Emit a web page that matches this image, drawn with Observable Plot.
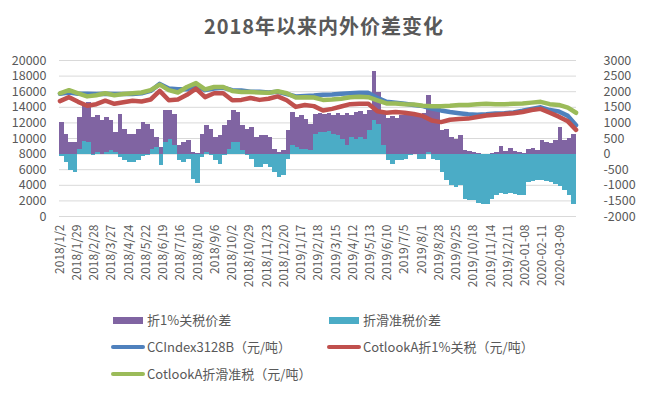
<!DOCTYPE html>
<html><head><meta charset="utf-8">
<script src="https://cdn.jsdelivr.net/npm/d3@7"></script>
<script src="https://cdn.jsdelivr.net/npm/@observablehq/plot@0.6"></script>
<style>
body{margin:0;background:#fff;}
#wrap{position:relative;width:648px;height:394px;overflow:hidden;font-family:"Noto Sans CJK SC","Noto Sans",sans-serif;color:#595959;background:#fff;}
#title{position:absolute;left:0;width:648px;top:13px;line-height:26px;text-align:center;font-size:20px;font-weight:bold;letter-spacing:1px;}
#chart{position:absolute;left:0;top:0;}
.lg{position:absolute;font-size:13px;line-height:18px;white-space:nowrap;display:flex;align-items:center;}
.sw{display:inline-block;margin-right:3px;}
</style></head><body>
<div id="wrap"><div id="chart"></div><div id="title">2018年以来内外价差变化</div><div id="legend"></div></div>
<script>
// ---- data ----
const xLabels = ["2018/1/2","2018/1/29","2018/2/28","2018/3/27","2018/4/24","2018/5/22","2018/6/19","2018/7/16","2018/8/10","2018/9/6","2018/10/2","2018/10/29","2018/11/23","2018/12/20","2019/1/17","2019/2/18","2019/3/15","2019/4/12","2019/5/13","2019/6/10","2019/7/5","2019/8/1","2019/8/28","2019/9/25","2019/10/18","2019/11/14","2019/12/11","2020-01-08","2020-02-11","2020-03-09"];
const labelEvery = 19;      // trading days between category labels
const totalDays = 570;      // trading days on the category axis
const barStep = 5;          // bars: one value per 5 trading days (right axis, 元/吨)
const lineStep = 10;        // lines: one value per 10 trading days (left axis, 元/吨)

// 折1%关税价差 (right axis)
const spread1pct = [1020,640,375,375,1180,1600,1660,1180,1230,1070,1180,1070,700,1280,800,640,640,800,1020,960,
  800,535,215,1390,1390,1285,270,375,430,50,30,640,910,800,535,590,910,1070,1390,1340,
  910,800,860,535,590,590,535,160,50,107,750,1340,1180,1230,1125,960,1285,1300,1280,1300,
  1250,1300,1250,1300,1250,1320,1350,1280,1400,2650,1980,1300,1150,1200,1150,1250,1250,1300,1250,1250,
  1300,1870,1550,1390,750,800,535,480,590,107,85,55,20,0,0,20,55,235,85,190,
  85,55,20,160,180,107,450,375,340,450,860,450,515,640];
// 折滑准税价差 (right axis)
const spreadSlide = [-90,-270,-540,-590,160,400,375,-50,50,-20,50,100,50,-110,-210,-270,-270,-190,-90,-50,
  150,210,-375,375,480,270,-210,-270,-160,-800,-950,-110,50,-50,-210,-320,-50,160,375,375,
  100,-50,-160,-430,-430,-320,-430,-590,-750,-700,-160,270,215,160,160,100,640,700,700,730,
  640,590,480,270,535,480,535,480,750,1070,960,270,-215,-320,-215,-215,-160,-55,-20,-160,
  -160,55,-180,-215,-590,-835,-1020,-1070,-1020,-1445,-1480,-1500,-1585,-1630,-1600,-1445,-1340,-1265,-1285,-1265,
  -1285,-1320,-1340,-910,-890,-860,-860,-880,-910,-985,-1050,-1180,-1340,-1600];
// CCIndex3128B
const ccIndex = [15750,15900,15750,15750,15700,15750,15700,15700,15700,15800,16100,17000,16400,16300,16300,16800,16200,16400,16500,16200,
  16150,16000,16000,15900,16000,15700,15400,15450,15500,15600,15650,15750,15800,15850,15850,15200,14700,14600,14450,14300,
  14150,13850,13600,13400,13250,13100,13050,13100,13200,13250,13350,13550,13800,14000,13650,13450,12900,11700];
// CotlookA折1%关税
const cotlook1pct = [14800,15300,14700,14200,14400,14850,14450,14650,14850,14750,15000,16100,14900,15000,15600,16400,15300,15800,15800,14900,
  14950,15200,14950,15100,15400,14900,14050,14300,14150,13600,13800,14100,14400,14450,14450,13500,13300,13400,13300,13150,
  12900,12300,12100,12400,12500,12550,12750,12950,13050,13150,13250,13400,13650,13800,13300,12800,12200,11100];
// CotlookA折滑准税
const cotlookSlide = [15800,16200,15800,15400,15550,15800,15550,15700,15800,15900,16200,16900,16200,15900,16600,17100,16300,16600,16600,16100,
  15950,15950,15900,15850,16050,15800,15250,15300,15250,14950,15000,15100,15300,15350,15300,14900,14500,14500,14400,14350,
  14200,14150,14150,14200,14300,14300,14400,14450,14400,14400,14450,14500,14600,14700,14400,14300,13950,13300];
const leftTicks = [0,2000,4000,6000,8000,10000,12000,14000,16000,18000,20000];

const colors = {p:"#8064A2", t:"#4BACC6", cc:"#4F81BD", c1:"#C0504D", cs:"#9BBB59"};

// right axis (-2000..3000) maps onto left axis (0..20000)
const toLeft = r => (r + 2000) * 4;

const bars = spread1pct.map((v, k) => ({x1: k*barStep, x2: (k+1)*barStep, p: v, t: spreadSlide[k]}));
const lineX = i => Math.min(i*lineStep, totalDays - 1) + 0.5;
const lines = [];
[["cc", ccIndex], ["c1", cotlook1pct], ["cs", cotlookSlide]].forEach(([key, arr]) =>
  arr.forEach((v, i) => lines.push({key, x: lineX(i), y: v})));
const labelPos = xLabels.map((s, i) => i*labelEvery + 0.5);

const font = '"Noto Sans CJK SC","Noto Sans",sans-serif';
const chart = Plot.plot({
  width: 648, height: 300,
  marginTop: 60, marginBottom: 84, marginLeft: 59, marginRight: 72,
  style: {fontFamily: font, fontSize: "12px", color: "#595959", background: "transparent", overflow: "visible"},
  x: {domain: [0, totalDays], axis: null},
  y: {domain: [0, 20000], axis: null},
  marks: [
    Plot.gridY(leftTicks, {stroke: "#d9d9d9", strokeOpacity: 1, strokeWidth: 1}),
    Plot.rect(bars, {x1: "x1", x2: "x2", y1: () => toLeft(0), y2: d => toLeft(d.p), fill: colors.p, inset: 0, shapeRendering: "crispEdges"}),
    Plot.rect(bars, {x1: "x1", x2: "x2", y1: () => toLeft(0), y2: d => toLeft(d.t), fill: colors.t, inset: 0, shapeRendering: "crispEdges"}),
    Plot.line(lines.filter(d => d.key === "cc"), {x: "x", y: "y", stroke: colors.cc, strokeWidth: 4.5, strokeLinejoin: "round"}),
    Plot.line(lines.filter(d => d.key === "c1"), {x: "x", y: "y", stroke: colors.c1, strokeWidth: 4.5, strokeLinejoin: "round"}),
    Plot.line(lines.filter(d => d.key === "cs"), {x: "x", y: "y", stroke: colors.cs, strokeWidth: 4.5, strokeLinejoin: "round"}),
    Plot.axisY(leftTicks, {anchor: "left", label: null, tickSize: 0, tickPadding: 13, tickFormat: d => String(d), fontSize: 12.5}),
    Plot.axisY(leftTicks, {anchor: "right", label: null, tickSize: 0, tickPadding: 27, tickFormat: d => String(d/4 - 2000), fontSize: 12.5}),
    Plot.axisX(labelPos, {anchor: "bottom", label: null, tickSize: 0, tickPadding: 8, tickRotate: -90, tickFormat: (d, i) => xLabels[i], fontSize: 12})
  ]
});
document.getElementById("chart").appendChild(chart);

// legend
const legendItems = [
  {label: "折1%关税价差", color: colors.p, kind: "bar", x: 113, y: 320},
  {label: "折滑准税价差", color: colors.t, kind: "bar", x: 329, y: 320},
  {label: "CCIndex3128B（元/吨）", color: colors.cc, kind: "line", x: 111, y: 347},
  {label: "CotlookA折1%关税（元/吨）", color: colors.c1, kind: "line", x: 327, y: 347},
  {label: "CotlookA折滑准税（元/吨）", color: colors.cs, kind: "line", x: 111, y: 374}
];
const lg = document.getElementById("legend");
legendItems.forEach(it => {
  const d = document.createElement("div");
  d.className = "lg";
  d.style.left = it.x + "px";
  d.style.top = (it.y - 9) + "px";
  const s = document.createElement("span");
  s.className = "sw";
  s.style.background = it.color;
  if (it.kind === "bar") { s.style.width = "30px"; s.style.height = "7px"; s.style.marginRight = "4px"; }
  else { s.style.width = "34px"; s.style.height = "4px"; s.style.borderRadius = "2px"; s.style.marginRight = "2px"; }
  d.appendChild(s);
  d.appendChild(document.createTextNode(it.label));
  lg.appendChild(d);
});
</script>
</body></html>
